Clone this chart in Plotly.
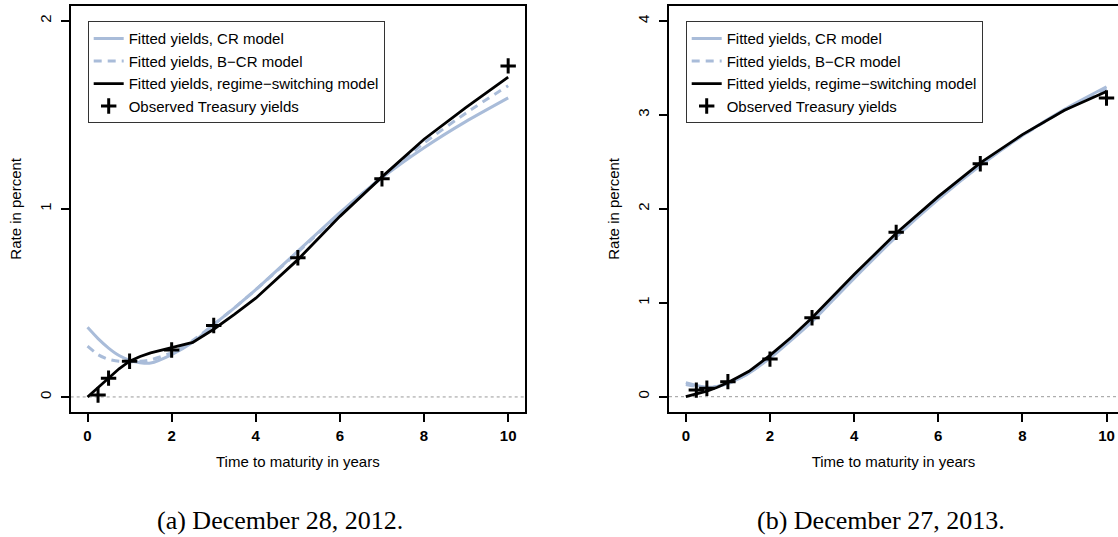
import plotly.graph_objects as go

# ---------------- data ----------------
MAT_OBS = [0.25, 0.5, 1, 2, 3, 5, 7, 10]
OBS_2012 = [0.01, 0.10, 0.19, 0.25, 0.38, 0.74, 1.16, 1.76]
OBS_2013 = [0.07, 0.09, 0.16, 0.40, 0.84, 1.75, 2.48, 3.18]

MAT_FIT = [0, 0.25, 0.5, 0.75, 1, 1.25, 1.5, 2, 2.5, 3, 3.5, 4, 5, 6, 7, 8, 9, 10]
CR_2012 = [0.37, 0.31, 0.26, 0.22, 0.195, 0.182, 0.18, 0.225, 0.29, 0.385, 0.475, 0.57, 0.775, 0.98, 1.165, 1.325, 1.465, 1.59]
BCR_2012 = [0.27, 0.225, 0.20, 0.19, 0.187, 0.19, 0.197, 0.235, 0.30, 0.385, 0.475, 0.57, 0.77, 0.975, 1.17, 1.35, 1.51, 1.655]
RS_2012 = [0.0, 0.05, 0.10, 0.15, 0.19, 0.215, 0.234, 0.26, 0.29, 0.36, 0.44, 0.525, 0.73, 0.96, 1.17, 1.37, 1.54, 1.70]

CR_2013 = [0.15, 0.12, 0.10, 0.11, 0.14, 0.19, 0.25, 0.41, 0.60, 0.80, 1.03, 1.26, 1.70, 2.10, 2.46, 2.78, 3.06, 3.30]
BCR_2013 = [0.13, 0.11, 0.10, 0.11, 0.14, 0.19, 0.25, 0.42, 0.61, 0.81, 1.04, 1.27, 1.71, 2.11, 2.47, 2.78, 3.05, 3.28]
RS_2013 = [0.0, 0.03, 0.06, 0.10, 0.15, 0.21, 0.27, 0.44, 0.63, 0.84, 1.07, 1.30, 1.74, 2.13, 2.49, 2.79, 3.05, 3.25]

NAMES = ["Fitted yields, CR model", "Fitted yields, B\u2212CR model",
         "Fitted yields, regime\u2212switching model", "Observed Treasury yields"]
X_TICKS = [0, 2, 4, 6, 8, 10]
Y_TICKS_A = [0, 1, 2]
Y_TICKS_B = [0, 1, 2, 3, 4]
CAPTIONS = ["(a) December 28, 2012.", "(b) December 27, 2013."]

BLUE = "#a9bcd9"
FONT = "Liberation Sans, Arial, Helvetica, sans-serif"

fig = go.Figure()

panels = [
    (CR_2012, BCR_2012, RS_2012, OBS_2012, "x", "y", "legend"),
    (CR_2013, BCR_2013, RS_2013, OBS_2013, "x2", "y2", "legend2"),
]
for cr, bcr, rs, obs, xa, ya, lg in panels:
    fig.add_trace(go.Scatter(x=MAT_FIT, y=cr, mode="lines", name=NAMES[0],
                             line=dict(color=BLUE, width=3, shape="spline", smoothing=0.6),
                             xaxis=xa, yaxis=ya, legend=lg))
    fig.add_trace(go.Scatter(x=MAT_FIT, y=bcr, mode="lines", name=NAMES[1],
                             line=dict(color=BLUE, width=3, dash="8px,6px", shape="spline", smoothing=0.6),
                             xaxis=xa, yaxis=ya, legend=lg))
    fig.add_trace(go.Scatter(x=MAT_FIT, y=rs, mode="lines", name=NAMES[2],
                             line=dict(color="black", width=2.8),
                             xaxis=xa, yaxis=ya, legend=lg))
    fig.add_trace(go.Scatter(x=MAT_OBS, y=obs, mode="markers", name=NAMES[3],
                             marker=dict(symbol="cross-thin", size=11, color="black",
                                         line=dict(color="black", width=3)),
                             xaxis=xa, yaxis=ya, legend=lg))

# dotted zero lines
for xr, yr in [("x domain", "y"), ("x2 domain", "y2")]:
    fig.add_shape(type="line", xref=xr, yref=yr, x0=0, x1=1, y0=0, y1=0,
                  line=dict(color="#9a9a9a", width=1, dash="dot"), layer="below")

W, H = 1118, 537
ydom = [(H - 412) / H, (H - 5.7) / H]

axis_common = dict(showgrid=False, zeroline=False, showline=True, linecolor="black",
                   linewidth=1.5, ticks="outside", ticklen=8, tickwidth=1.5,
                   tickcolor="black")

xt = dict(tickvals=X_TICKS, ticktext=["<b>%d</b>" % v for v in X_TICKS],
          tickfont=dict(family=FONT, size=15, color="black"),
          ticklabelstandoff=1,
          title=dict(text="Time to maturity in years", font=dict(family=FONT, size=15, color="black"),
                     standoff=14))

fig.update_layout(
    width=W, height=H, margin=dict(l=0, r=0, t=0, b=0),
    paper_bgcolor="white", plot_bgcolor="white",
    font=dict(family=FONT, color="black"),
    showlegend=True,
    xaxis=dict(domain=[70.7 / W, 525 / W], range=[-0.4, 10.4], anchor="y", mirror=True,
               **axis_common, **xt),
    yaxis=dict(domain=ydom, range=[-0.08, 2.08], anchor="x", mirror=True,
               tickvals=Y_TICKS_A, tickangle=-90,
               tickfont=dict(family=FONT, size=15, color="black"),
               ticklabelstandoff=4,
               title=dict(text="Rate in percent", font=dict(family=FONT, size=15, color="black"),
                          standoff=12),
               **axis_common),
    xaxis2=dict(domain=[669 / W, 1.0], range=[-0.4, (1118 - 685.5) / 42.1], anchor="y2", mirror=True,
                **axis_common, **xt),
    yaxis2=dict(domain=ydom, range=[-0.163, 4.163], anchor="x2", mirror=False,
                tickvals=Y_TICKS_B, tickangle=-90,
                tickfont=dict(family=FONT, size=15, color="black"),
                ticklabelstandoff=4,
                title=dict(text="Rate in percent", font=dict(family=FONT, size=15, color="black"),
                           standoff=12),
                **axis_common),
    legend=dict(x=87.7 / W, y=(H - 21.3) / H, xanchor="left", yanchor="top",
                bgcolor="white", bordercolor="#333333", borderwidth=1,
                font=dict(family=FONT, size=15, color="black"), tracegroupgap=0,
                itemwidth=30),
    legend2=dict(x=685.7 / W, y=(H - 21.3) / H, xanchor="left", yanchor="top",
                 bgcolor="white", bordercolor="#333333", borderwidth=1,
                 font=dict(family=FONT, size=15, color="black"), tracegroupgap=0,
                 itemwidth=30),
    annotations=[
        dict(text=CAPTIONS[0], x=279.6 / W, y=(H - 520) / H, xref="paper", yref="paper",
             showarrow=False, xanchor="center", yanchor="middle",
             font=dict(family="Liberation Serif, Times New Roman, serif", size=26, color="black")),
        dict(text=CAPTIONS[1], x=881 / W, y=(H - 520) / H, xref="paper", yref="paper",
             showarrow=False, xanchor="center", yanchor="middle",
             font=dict(family="Liberation Serif, Times New Roman, serif", size=26, color="black")),
    ],
)

fig.write_html("out.html", config={"displayModeBar": False},
               post_script="document.body.style.margin='0px';document.body.style.overflow='hidden';")
